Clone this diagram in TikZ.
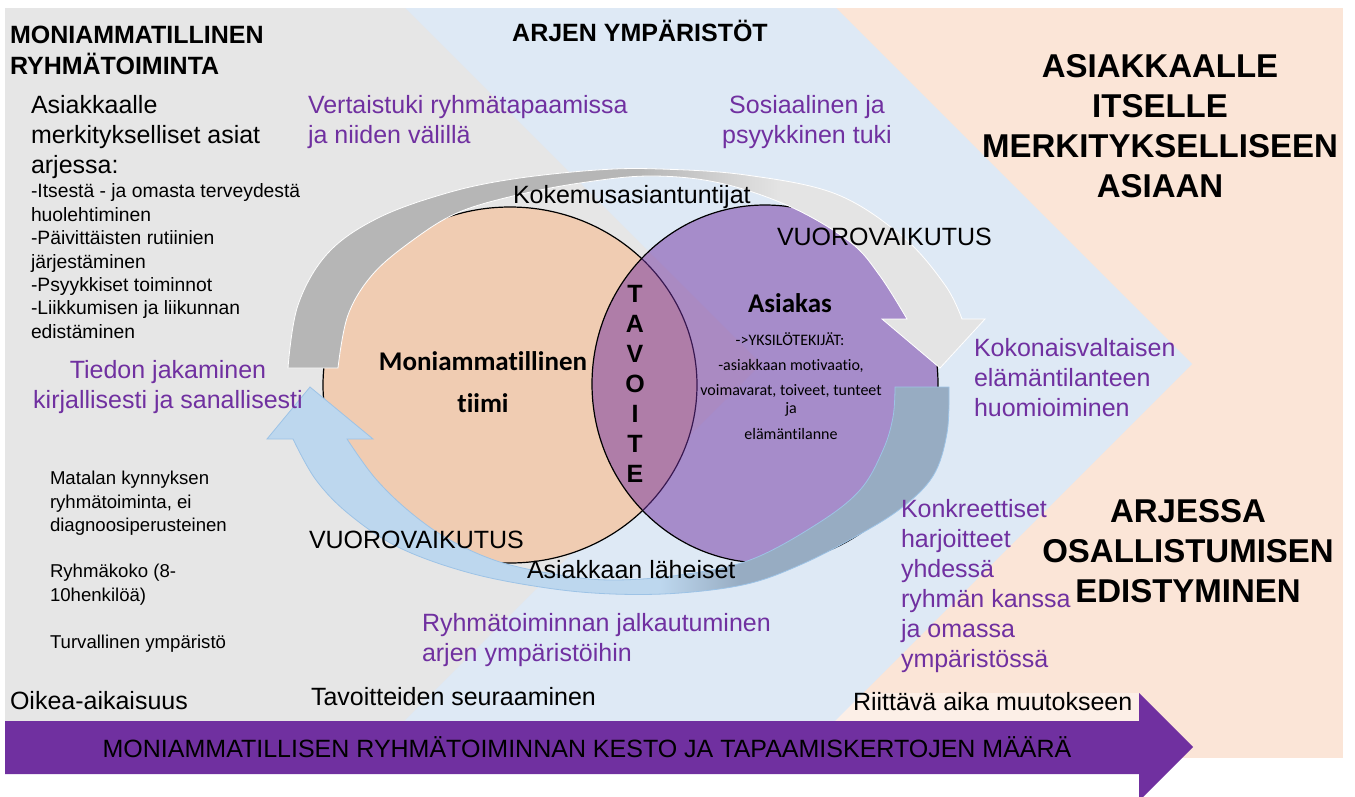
\documentclass[tikz,border=0pt]{standalone}
\usepackage{fontspec}
\setmainfont{Liberation Sans}
\newfontfamily\calibri[Ligatures={NoCommon}]{Carlito}
\definecolor{bggray}{HTML}{E6E6E6}
\definecolor{bgblue}{HTML}{DEE9F5}
\definecolor{bgpeach}{HTML}{FBE5D7}
\definecolor{circpeach}{HTML}{F0CCB2}
\definecolor{vpurple}{HTML}{7030A0}
\definecolor{gbandA}{HTML}{B6B6B6}
\definecolor{gbandB}{HTML}{E4E4E4}
\definecolor{bbandA}{HTML}{BDD7EE}
\definecolor{bbandB}{HTML}{97ACC2}
\definecolor{bbandline}{HTML}{9DC3E6}
\def\grayband{(288,368) -- plot[smooth, tension=0.6] coordinates {(288,368) (298,305) (328,253) (378,218) (447,193) (513,179) (597,170) (660,169) (746,175) (836,194) (903,237) (945,285) (962,319)} -- (985,319) -- (940,368) -- (882,319) -- (907,319) -- plot[smooth, tension=0.6] coordinates {(907,319) (880,276) (850,242) (791,207) (720,183) (650,176) (580,183) (513,196) (457,213) (413,240) (373,274) (348,315) (338,368)} -- cycle}
\def\blueband{(949,387) -- plot[smooth, tension=0.6] coordinates {(949,387) (947,433) (933,476) (900,509) (853,538) (800,565) (747,584) (680,593) (613,594) (547,588) (470,573) (400,548) (350,515) (316,480) (293,439)} -- (267,439) -- (310,387) -- (373,439) -- (347,439) -- plot[smooth, tension=0.6] coordinates {(347,439) (375,478) (410,512) (450,540) (500,562) (560,575) (613,580) (680,575) (750,560) (817,524) (860,490) (883,450) (893,417) (895,387)} -- cycle}
\begin{document}
\begin{tikzpicture}[x=1pt,y=-1pt,
  lbl/.style={inner sep=0pt, outer sep=0pt},
  f24/.style={lbl, font=\fontsize{25}{30}\selectfont},
  f24b/.style={lbl, font=\bfseries\fontsize{25}{30}\selectfont},
  f32b/.style={lbl, font=\bfseries\fontsize{33}{40}\selectfont},
  f18/.style={lbl, font=\fontsize{18.6}{23.4}\selectfont},
  f19/.style={lbl, font=\fontsize{19.3}{23.4}\selectfont},
  pur/.style={text=vpurple},
  cal/.style={lbl, font=\calibri\fontsize{16}{25}\selectfont},
  calb/.style={lbl, font=\calibri\bfseries\fontsize{27}{42}\selectfont},
  ring/.style={draw=black, line width=1.2pt},
]
\clip (0,0) rectangle (1355,796);
\fill[white] (0,0) rectangle (1355,796);
% backgrounds
\fill[bgpeach] (700,8) rectangle (1343,758);
\fill[bgblue] (300,8) -- (836,8) -- (1192,364) -- (798,758) -- (300,758) -- cycle;
\fill[bggray] (5,8) -- (405,8) -- (761,364) -- (367,758) -- (5,758) -- cycle;
\fill[white, fill opacity=0.4] (863,693) -- (1139,693) -- (1139,721) -- (835,721) -- cycle;
% circles
\filldraw[fill=circpeach, ring] (510,385) ellipse [x radius=187pt, y radius=178pt];
\fill[vpurple, fill opacity=0.5] (765,384) ellipse [x radius=173pt, y radius=179pt];
\draw[ring] (765,384) ellipse [x radius=173pt, y radius=179pt];
% gray circular arrow
\begin{scope}
  \clip \grayband;
  \fill[gbandA] (270,150) rectangle (641,390);
  \shade[left color=gbandA, right color=gbandB] (640,150) rectangle (781,390);
  \fill[gbandB] (780,150) rectangle (1000,390);
\end{scope}
\draw[white, line width=0.8pt] \grayband;
% blue circular arrow
\begin{scope}
  \clip \blueband;
  \fill[bbandA] (250,380) rectangle (661,610);
  \shade[left color=bbandA, right color=bbandB] (660,380) rectangle (741,610);
  \fill[bbandB] (740,380) rectangle (960,610);
\end{scope}
\draw[bbandline, line width=0.8pt] \blueband;
% bottom arrow
\fill[vpurple] (5,721) -- (1139,721) -- (1139,693) -- (1193,747) -- (1139,801) -- (1139,774) -- (5,774) -- cycle;
% headings
\node[f24b, anchor=north west, align=left] (hdrL) at (10,22) {\strut MONIAMMATILLINEN\\RYHMÄTOIMINTA};
\node[f24b, anchor=base] (hdrM) at (640,41.5) {ARJEN YMPÄRISTÖT};
\node[f32b, anchor=north, align=center] (hdrR) at (1160,49) {\strut ASIAKKAALLE\\ITSELLE\\MERKITYKSELLISEEN\\ASIAAN};
\node[f32b, anchor=north, align=center] (hdrR2) at (1188,494) {\strut ARJESSA\\OSALLISTUMISEN\\EDISTYMINEN};
% left column
\node[f24, anchor=north west, align=left] (meaning) at (31,92) {\strut Asiakkaalle\\merkitykselliset asiat\\arjessa:};
\node[f19, anchor=north west, align=left] (list) at (31,181.6) {\strut -Itsestä - ja omasta terveydestä\\huolehtiminen\\-Päivittäisten rutiinien\\järjestäminen\\-Psyykkiset toiminnot\\-Liikkumisen ja liikunnan\\edistäminen};
\node[f18, anchor=north west, align=left] (matala) at (50,468.6) {\strut Matalan kynnyksen\\ryhmätoiminta, ei\\diagnoosiperusteinen};
\node[f18, anchor=north west, align=left] (koko) at (50,561.6) {\strut Ryhmäkoko (8-\\10henkilöä)};
\node[f18, anchor=base west] (turva) at (50,648) {Turvallinen ympäristö};
% purple labels
\node[f24, pur, anchor=north west, align=left] (vert) at (308,92) {\strut Vertaistuki ryhmätapaamissa\\ja niiden välillä};
\node[f24, pur, anchor=north, align=center] (sos) at (807,92) {\strut Sosiaalinen ja\\psyykkinen tuki};
\node[f24, pur, anchor=north, align=center] (tiedon) at (168,357) {\strut Tiedon jakaminen\\kirjallisesti ja sanallisesti};
\node[f24, pur, anchor=north west, align=left] (kokon) at (974,335) {\strut Kokonaisvaltaisen\\elämäntilanteen\\huomioiminen};
\node[f24, pur, anchor=north west, align=left] (konkr) at (901,496) {\strut Konkreettiset\\harjoitteet\\yhdessä\\ryhmän kanssa\\ja omassa\\ympäristössä};
\node[f24, pur, anchor=north west, align=left] (jalk) at (422,610) {\strut Ryhmätoiminnan jalkautuminen\\arjen ympäristöihin};
% black labels around circles
\node[f24, anchor=base west] (kokem) at (513,203) {Kokemusasiantuntijat};
\node[f24, anchor=base west] (vuoro1) at (777,245) {VUOROVAIKUTUS};
\node[f24, anchor=base west] (vuoro2) at (309,548) {VUOROVAIKUTUS};
\node[f24, anchor=base west] (lah) at (527,578) {Asiakkaan läheiset};
% bottom labels
\node[f24, anchor=base west] (oikea) at (10,709) {Oikea-aikaisuus};
\node[f24, anchor=base west] (tavse) at (311,705) {Tavoitteiden seuraaminen};
\node[f24, anchor=base west] (riitt) at (853,710) {Riittävä aika muutokseen};
\node[f24, anchor=base] (kesto) at (587,757) {MONIAMMATILLISEN RYHMÄTOIMINNAN KESTO JA TAPAAMISKERTOJEN MÄÄRÄ};
% circle contents
\node[calb, anchor=base] (mon) at (483,370) {Moniammatillinen};
\node[calb, anchor=base] (tiimi) at (483,412) {tiimi};
\node[calb, anchor=base] (asiakas) at (790,312) {Asiakas};
\node[cal, anchor=base] (yks) at (790,345.5) {->YKSILÖTEKIJÄT:};
\node[cal, anchor=base] (mot) at (791,370) {-asiakkaan motivaatio,};
\node[cal, anchor=base] (voim) at (791,395) {voimavarat, toiveet, tunteet};
\node[cal, anchor=base] (ja) at (791,413.5) {ja};
\node[cal, anchor=base] (elam) at (791,439) {elämäntilanne};
\node[f24b, anchor=north, align=center] (tav) at (635,281) {\strut T\\A\\V\\O\\I\\T\\E};
\end{tikzpicture}
\end{document}
